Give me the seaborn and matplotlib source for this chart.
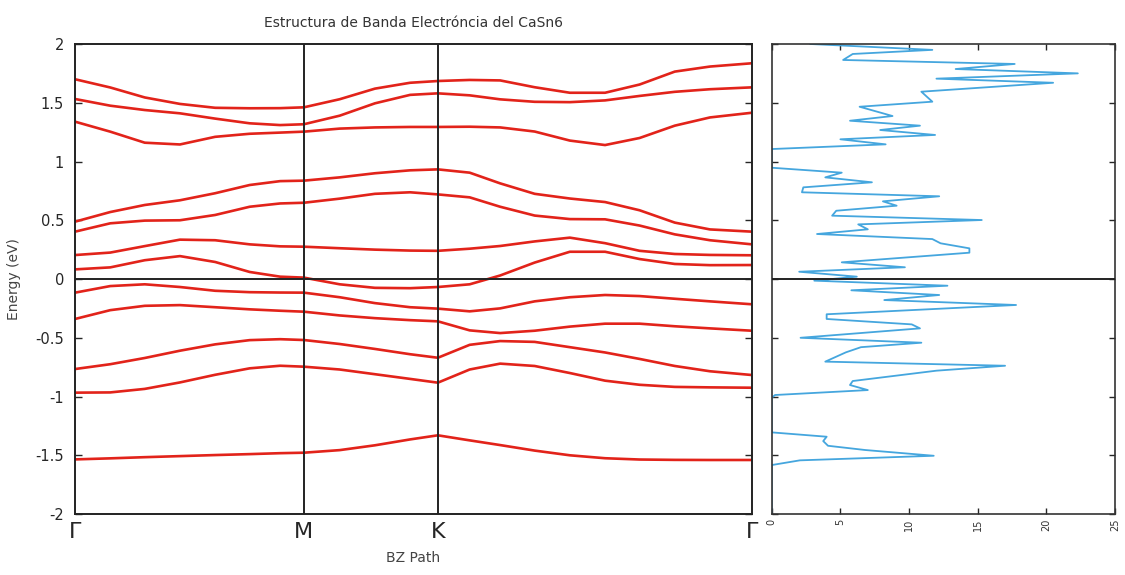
import numpy as np
import pandas as pd
import matplotlib
matplotlib.use("Agg")
import matplotlib.pyplot as plt
import seaborn as sns

# ---------------- data ----------------
k_path = [0.0, 0.052, 0.103, 0.155, 0.207, 0.258, 0.303, 0.338, 0.391, 0.443, 0.495,
          0.536, 0.583, 0.628, 0.679, 0.731, 0.783, 0.834, 0.886, 0.938, 1.0]
k_ticks = [0.0, 0.338, 0.536, 1.0]
k_labels = ["Γ", "M", "K", "Γ"]

band_01 = [1.70, 1.63, 1.545, 1.49, 1.457, 1.453, 1.454, 1.461, 1.53, 1.62, 1.67,
           1.685, 1.694, 1.69, 1.632, 1.585, 1.585, 1.655, 1.765, 1.808, 1.836]
band_02 = [1.532, 1.475, 1.438, 1.41, 1.365, 1.325, 1.31, 1.317, 1.39, 1.495, 1.567,
           1.58, 1.563, 1.529, 1.508, 1.505, 1.52, 1.558, 1.593, 1.615, 1.631]
band_03 = [1.339, 1.254, 1.16, 1.145, 1.21, 1.236, 1.246, 1.254, 1.28, 1.29, 1.294,
           1.294, 1.296, 1.29, 1.255, 1.178, 1.14, 1.2, 1.305, 1.375, 1.415]
band_04 = [0.488, 0.57, 0.63, 0.67, 0.73, 0.80, 0.833, 0.837, 0.865, 0.90, 0.925,
           0.933, 0.905, 0.814, 0.725, 0.685, 0.655, 0.585, 0.48, 0.422, 0.403]
band_05 = [0.403, 0.474, 0.497, 0.50, 0.545, 0.615, 0.643, 0.649, 0.684, 0.725, 0.738,
           0.72, 0.695, 0.615, 0.54, 0.51, 0.508, 0.455, 0.38, 0.33, 0.295]
band_06 = [0.204, 0.225, 0.28, 0.335, 0.33, 0.295, 0.278, 0.275, 0.262, 0.25, 0.242,
           0.24, 0.258, 0.281, 0.32, 0.352, 0.305, 0.24, 0.213, 0.205, 0.202]
band_07 = [0.082, 0.099, 0.16, 0.195, 0.145, 0.06, 0.02, 0.012, -0.045, -0.075, -0.078,
           -0.068, -0.045, 0.03, 0.14, 0.232, 0.232, 0.17, 0.128, 0.118, 0.119]
band_08 = [-0.116, -0.06, -0.045, -0.068, -0.1, -0.112, -0.115, -0.116, -0.155, -0.205, -0.24,
           -0.252, -0.275, -0.25, -0.19, -0.155, -0.136, -0.145, -0.168, -0.19, -0.215]
band_09 = [-0.34, -0.265, -0.228, -0.222, -0.24, -0.258, -0.27, -0.278, -0.31, -0.333, -0.35,
           -0.36, -0.437, -0.46, -0.44, -0.405, -0.38, -0.38, -0.402, -0.42, -0.44]
band_10 = [-0.766, -0.725, -0.672, -0.61, -0.556, -0.52, -0.512, -0.519, -0.553, -0.595, -0.64,
           -0.67, -0.56, -0.528, -0.535, -0.58, -0.625, -0.68, -0.74, -0.785, -0.817]
band_11 = [-0.967, -0.965, -0.935, -0.88, -0.815, -0.76, -0.738, -0.746, -0.77, -0.81, -0.85,
           -0.882, -0.77, -0.72, -0.74, -0.80, -0.865, -0.90, -0.918, -0.922, -0.925]
band_12 = [-1.535, -1.526, -1.516, -1.507, -1.498, -1.49, -1.482, -1.478, -1.456, -1.415, -1.365,
           -1.33, -1.373, -1.413, -1.46, -1.50, -1.525, -1.536, -1.539, -1.54, -1.54]

dos_energy = [2.0, 1.95, 1.915, 1.864, 1.83, 1.787, 1.75, 1.705, 1.67, 1.594, 1.509,
              1.466, 1.387, 1.347, 1.305, 1.268, 1.226, 1.189, 1.146, 1.106, 0.947,
              0.905, 0.865, 0.823, 0.78, 0.738, 0.704, 0.661, 0.624, 0.581, 0.539,
              0.502, 0.465, 0.423, 0.383, 0.34, 0.304, 0.261, 0.224, 0.142, 0.10,
              0.062, 0.02, -0.014, -0.057, -0.096, -0.136, -0.179, -0.221, -0.30, -0.34,
              -0.386, -0.42, -0.50, -0.542, -0.58, -0.624, -0.703, -0.738, -0.78, -0.868,
              -0.902, -0.945, -0.987, -1.01, -1.305, -1.342, -1.379, -1.419, -1.455, -1.504,
              -1.543, -1.583, -2.0]
dos_values = [2.8, 11.7, 5.9, 5.2, 17.7, 13.4, 22.3, 12.0, 20.5, 10.9, 11.7,
              6.4, 8.8, 5.7, 10.8, 7.9, 11.9, 5.0, 8.3, 0.0, 0.0,
              5.1, 3.9, 7.3, 2.3, 2.2, 12.2, 8.1, 9.1, 4.7, 4.4,
              15.3, 6.3, 7.0, 3.3, 11.7, 12.3, 14.4, 14.4, 5.1, 9.7,
              2.0, 6.2, 3.1, 12.8, 5.8, 12.2, 8.2, 17.8, 4.0, 4.0,
              10.2, 10.8, 2.1, 10.9, 6.5, 5.4, 3.9, 17.0, 12.0, 5.9,
              5.7, 7.0, 0.24, 0.0, 0.0, 4.0, 3.75, 4.1, 6.8, 11.8,
              2.05, 0.0, 0.0]
dos_ticks = [0, 5, 10, 15, 20, 25]

bands = [band_01, band_02, band_03, band_04, band_05, band_06,
         band_07, band_08, band_09, band_10, band_11, band_12]

# ---------------- plot ----------------
sns.set_style("ticks")
plt.rcParams['font.family'] = ['DejaVu Sans']

fig = plt.figure(figsize=(11.25, 5.75), dpi=100)
ax = fig.add_axes([0.0667, 0.106, 0.6017, 0.8175])
ax2 = fig.add_axes([0.686, 0.106, 0.305, 0.8175])

red = "#e2231a"
for i, b in enumerate(bands):
    df = pd.DataFrame({"k": k_path, "E": b})
    sns.lineplot(data=df, x="k", y="E", ax=ax, color=red, lw=1.9,
                 estimator=None, sort=False, solid_joinstyle="round",
                 solid_capstyle="round")

for kt in k_ticks[1:-1]:
    ax.axvline(kt, color="#222222", lw=1.4, zorder=3)
ax.axhline(0, color="#222222", lw=1.4, zorder=3)

ax.set_xlim(0, 1)
ax.set_ylim(-2, 2)
ax.set_xticks(k_ticks)
ax.set_xticklabels(k_labels, fontsize=16)
ax.set_yticks(np.arange(-2, 2.01, 0.5))
ax.set_yticklabels(["-2", "-1.5", "-1", "-0.5", "0", "0.5", "1", "1.5", "2"], fontsize=10.5)
ax.tick_params(axis="y", direction="in", length=5, width=1, right=True, left=True, pad=8)
ax.tick_params(axis="x", length=0, pad=6)
ax.set_xlabel("BZ Path", fontsize=10, color="#444444", labelpad=6)
ax.set_ylabel("Energy (eV)", fontsize=10, color="#444444", labelpad=10)
ax.set_title("Estructura de Banda Electróncia del CaSn6", fontsize=10, color="#333333", pad=12)
for s in ax.spines.values():
    s.set_linewidth(1.4)
    s.set_color("#222222")

dos_df = pd.DataFrame({"dos": dos_values, "E": dos_energy})
sns.lineplot(data=dos_df, x="dos", y="E", ax=ax2, color="#45a6de", lw=1.3,
             estimator=None, sort=False, orient="y")
ax2.axhline(0, color="#222222", lw=1.4, zorder=3)
ax2.set_ylim(-2, 2)
ax2.set_xlim(0, 25)
ax2.set_yticks(np.arange(-2, 2.01, 0.5))
ax2.set_yticklabels([])
ax2.set_xticks(dos_ticks)
ax2.set_xticklabels([str(t) for t in dos_ticks], rotation=90, fontsize=7, color="#333333")
ax2.tick_params(axis="both", direction="in", length=4, width=1,
                top=True, bottom=True, left=True, right=True)
ax2.set_xlabel("")
ax2.set_ylabel("")
for s in ax2.spines.values():
    s.set_linewidth(1.2)
    s.set_color("#333333")

fig.savefig("out.png", dpi=100, facecolor="white")
